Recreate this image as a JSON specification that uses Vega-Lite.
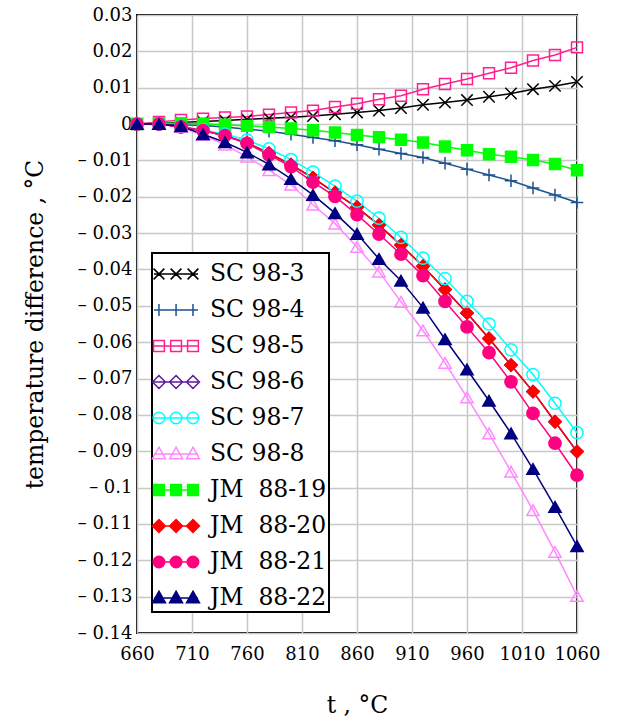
{
 "$schema": "https://vega.github.io/schema/vega-lite/v6.json",
 "width": 440,
 "height": 618,
 "autosize": {"type": "none"},
 "padding": {"left": 137, "top": 15, "right": 41, "bottom": 87},
 "background": "white",
 "config": {
  "view": {"stroke": "black", "strokeWidth": 2},
  "font": "DejaVu Serif",
  "axis": {"labelFont": "DejaVu Serif", "titleFont": "DejaVu Serif", "labelColor": "black", "titleColor": "black", "labelFontSize": 18, "titleFontSize": 23.5, "titleFontWeight": "normal", "gridColor": "#c8c8c8", "gridWidth": 1.5, "gridOpacity": 1, "domain": false, "ticks": false, "tickSize": 0, "labelFlush": false, "labelOverlap": false},
  "legend": {"orient": "none", "legendX": 15, "legendY": 238, "strokeColor": "black", "strokeWidth": 2, "fillColor": "white", "padding": 2, "labelFont": "DejaVu Serif", "labelFontSize": 23.5, "labelColor": "black", "symbolSize": 1296, "symbolStrokeWidth": 1.5, "symbolOpacity": 1, "rowPadding": 5, "labelOffset": 18, "labelLimit": 300}
 },
 "data": {"values": [
  {"s":"SC 98-3","t":660,"d":0},{"s":"SC 98-3","t":680,"d":0.0002},{"s":"SC 98-3","t":700,"d":0.0004},{"s":"SC 98-3","t":720,"d":0.0007},{"s":"SC 98-3","t":740,"d":0.001},{"s":"SC 98-3","t":760,"d":0.0013},{"s":"SC 98-3","t":780,"d":0.0016},{"s":"SC 98-3","t":800,"d":0.0019},{"s":"SC 98-3","t":820,"d":0.0022},{"s":"SC 98-3","t":840,"d":0.0027},{"s":"SC 98-3","t":860,"d":0.0032},{"s":"SC 98-3","t":880,"d":0.0037},{"s":"SC 98-3","t":900,"d":0.0044},{"s":"SC 98-3","t":920,"d":0.0053},{"s":"SC 98-3","t":940,"d":0.0059},{"s":"SC 98-3","t":960,"d":0.0066},{"s":"SC 98-3","t":980,"d":0.0075},{"s":"SC 98-3","t":1000,"d":0.0084},{"s":"SC 98-3","t":1020,"d":0.0096},{"s":"SC 98-3","t":1040,"d":0.0105},{"s":"SC 98-3","t":1060,"d":0.0116},
  {"s":"SC 98-4","t":660,"d":0},{"s":"SC 98-4","t":680,"d":-0.0001},{"s":"SC 98-4","t":700,"d":-0.0002},{"s":"SC 98-4","t":720,"d":-0.0004},{"s":"SC 98-4","t":740,"d":-0.0008},{"s":"SC 98-4","t":760,"d":-0.0014},{"s":"SC 98-4","t":780,"d":-0.002},{"s":"SC 98-4","t":800,"d":-0.0028},{"s":"SC 98-4","t":820,"d":-0.0037},{"s":"SC 98-4","t":840,"d":-0.0046},{"s":"SC 98-4","t":860,"d":-0.0057},{"s":"SC 98-4","t":880,"d":-0.0069},{"s":"SC 98-4","t":900,"d":-0.0081},{"s":"SC 98-4","t":920,"d":-0.0092},{"s":"SC 98-4","t":940,"d":-0.0108},{"s":"SC 98-4","t":960,"d":-0.0124},{"s":"SC 98-4","t":980,"d":-0.014},{"s":"SC 98-4","t":1000,"d":-0.0156},{"s":"SC 98-4","t":1020,"d":-0.0176},{"s":"SC 98-4","t":1040,"d":-0.0195},{"s":"SC 98-4","t":1060,"d":-0.0216},
  {"s":"SC 98-5","t":660,"d":0},{"s":"SC 98-5","t":680,"d":0.0006},{"s":"SC 98-5","t":700,"d":0.0011},{"s":"SC 98-5","t":720,"d":0.0015},{"s":"SC 98-5","t":740,"d":0.0018},{"s":"SC 98-5","t":760,"d":0.0021},{"s":"SC 98-5","t":780,"d":0.0026},{"s":"SC 98-5","t":800,"d":0.0032},{"s":"SC 98-5","t":820,"d":0.0037},{"s":"SC 98-5","t":840,"d":0.0047},{"s":"SC 98-5","t":860,"d":0.0056},{"s":"SC 98-5","t":880,"d":0.0068},{"s":"SC 98-5","t":900,"d":0.0078},{"s":"SC 98-5","t":920,"d":0.0096},{"s":"SC 98-5","t":940,"d":0.011},{"s":"SC 98-5","t":960,"d":0.0124},{"s":"SC 98-5","t":980,"d":0.014},{"s":"SC 98-5","t":1000,"d":0.0155},{"s":"SC 98-5","t":1020,"d":0.0175},{"s":"SC 98-5","t":1040,"d":0.019},{"s":"SC 98-5","t":1060,"d":0.0211},
  {"s":"SC 98-6","t":660,"d":0},{"s":"SC 98-6","t":680,"d":0},{"s":"SC 98-6","t":700,"d":-0.0008},{"s":"SC 98-6","t":720,"d":-0.0018},{"s":"SC 98-6","t":740,"d":-0.0032},{"s":"SC 98-6","t":760,"d":-0.0052},{"s":"SC 98-6","t":780,"d":-0.008},{"s":"SC 98-6","t":800,"d":-0.0112},{"s":"SC 98-6","t":820,"d":-0.0148},{"s":"SC 98-6","t":840,"d":-0.0189},{"s":"SC 98-6","t":860,"d":-0.0229},{"s":"SC 98-6","t":880,"d":-0.0278},{"s":"SC 98-6","t":900,"d":-0.0333},{"s":"SC 98-6","t":920,"d":-0.0391},{"s":"SC 98-6","t":940,"d":-0.0455},{"s":"SC 98-6","t":960,"d":-0.052},{"s":"SC 98-6","t":980,"d":-0.059},{"s":"SC 98-6","t":1000,"d":-0.0663},{"s":"SC 98-6","t":1020,"d":-0.0736},{"s":"SC 98-6","t":1040,"d":-0.0819},{"s":"SC 98-6","t":1060,"d":-0.0901},
  {"s":"SC 98-7","t":660,"d":0},{"s":"SC 98-7","t":680,"d":0},{"s":"SC 98-7","t":700,"d":-0.0008},{"s":"SC 98-7","t":720,"d":-0.0016},{"s":"SC 98-7","t":740,"d":-0.0028},{"s":"SC 98-7","t":760,"d":-0.0044},{"s":"SC 98-7","t":780,"d":-0.0068},{"s":"SC 98-7","t":800,"d":-0.0098},{"s":"SC 98-7","t":820,"d":-0.0132},{"s":"SC 98-7","t":840,"d":-0.0171},{"s":"SC 98-7","t":860,"d":-0.0212},{"s":"SC 98-7","t":880,"d":-0.0259},{"s":"SC 98-7","t":900,"d":-0.0312},{"s":"SC 98-7","t":920,"d":-0.0369},{"s":"SC 98-7","t":940,"d":-0.0425},{"s":"SC 98-7","t":960,"d":-0.0488},{"s":"SC 98-7","t":980,"d":-0.055},{"s":"SC 98-7","t":1000,"d":-0.0621},{"s":"SC 98-7","t":1020,"d":-0.0689},{"s":"SC 98-7","t":1040,"d":-0.0768},{"s":"SC 98-7","t":1060,"d":-0.0849},
  {"s":"SC 98-8","t":660,"d":0},{"s":"SC 98-8","t":680,"d":0},{"s":"SC 98-8","t":700,"d":-0.0008},{"s":"SC 98-8","t":720,"d":-0.003},{"s":"SC 98-8","t":740,"d":-0.0057},{"s":"SC 98-8","t":760,"d":-0.009},{"s":"SC 98-8","t":780,"d":-0.0127},{"s":"SC 98-8","t":800,"d":-0.0167},{"s":"SC 98-8","t":820,"d":-0.0222},{"s":"SC 98-8","t":840,"d":-0.0274},{"s":"SC 98-8","t":860,"d":-0.0338},{"s":"SC 98-8","t":880,"d":-0.0406},{"s":"SC 98-8","t":900,"d":-0.0489},{"s":"SC 98-8","t":920,"d":-0.0568},{"s":"SC 98-8","t":940,"d":-0.0657},{"s":"SC 98-8","t":960,"d":-0.0752},{"s":"SC 98-8","t":980,"d":-0.0851},{"s":"SC 98-8","t":1000,"d":-0.0956},{"s":"SC 98-8","t":1020,"d":-0.1062},{"s":"SC 98-8","t":1040,"d":-0.1177},{"s":"SC 98-8","t":1060,"d":-0.1298},
  {"s":"JM 88-19","t":660,"d":0},{"s":"JM 88-19","t":680,"d":0.0002},{"s":"JM 88-19","t":700,"d":0.0002},{"s":"JM 88-19","t":720,"d":0.0001},{"s":"JM 88-19","t":740,"d":-0.0002},{"s":"JM 88-19","t":760,"d":-0.0005},{"s":"JM 88-19","t":780,"d":-0.0008},{"s":"JM 88-19","t":800,"d":-0.0012},{"s":"JM 88-19","t":820,"d":-0.0017},{"s":"JM 88-19","t":840,"d":-0.0023},{"s":"JM 88-19","t":860,"d":-0.003},{"s":"JM 88-19","t":880,"d":-0.0036},{"s":"JM 88-19","t":900,"d":-0.0043},{"s":"JM 88-19","t":920,"d":-0.0051},{"s":"JM 88-19","t":940,"d":-0.0062},{"s":"JM 88-19","t":960,"d":-0.0072},{"s":"JM 88-19","t":980,"d":-0.0083},{"s":"JM 88-19","t":1000,"d":-0.009},{"s":"JM 88-19","t":1020,"d":-0.0099},{"s":"JM 88-19","t":1040,"d":-0.011},{"s":"JM 88-19","t":1060,"d":-0.0127},
  {"s":"JM 88-20","t":660,"d":0},{"s":"JM 88-20","t":680,"d":0},{"s":"JM 88-20","t":700,"d":-0.0008},{"s":"JM 88-20","t":720,"d":-0.0018},{"s":"JM 88-20","t":740,"d":-0.0032},{"s":"JM 88-20","t":760,"d":-0.0052},{"s":"JM 88-20","t":780,"d":-0.008},{"s":"JM 88-20","t":800,"d":-0.0112},{"s":"JM 88-20","t":820,"d":-0.0148},{"s":"JM 88-20","t":840,"d":-0.0189},{"s":"JM 88-20","t":860,"d":-0.0229},{"s":"JM 88-20","t":880,"d":-0.0278},{"s":"JM 88-20","t":900,"d":-0.0333},{"s":"JM 88-20","t":920,"d":-0.0391},{"s":"JM 88-20","t":940,"d":-0.0455},{"s":"JM 88-20","t":960,"d":-0.052},{"s":"JM 88-20","t":980,"d":-0.059},{"s":"JM 88-20","t":1000,"d":-0.0663},{"s":"JM 88-20","t":1020,"d":-0.0736},{"s":"JM 88-20","t":1040,"d":-0.0819},{"s":"JM 88-20","t":1060,"d":-0.0901},
  {"s":"JM 88-21","t":660,"d":0},{"s":"JM 88-21","t":680,"d":0},{"s":"JM 88-21","t":700,"d":-0.0008},{"s":"JM 88-21","t":720,"d":-0.0018},{"s":"JM 88-21","t":740,"d":-0.0032},{"s":"JM 88-21","t":760,"d":-0.0053},{"s":"JM 88-21","t":780,"d":-0.0085},{"s":"JM 88-21","t":800,"d":-0.0117},{"s":"JM 88-21","t":820,"d":-0.016},{"s":"JM 88-21","t":840,"d":-0.0199},{"s":"JM 88-21","t":860,"d":-0.0249},{"s":"JM 88-21","t":880,"d":-0.0303},{"s":"JM 88-21","t":900,"d":-0.0358},{"s":"JM 88-21","t":920,"d":-0.0417},{"s":"JM 88-21","t":940,"d":-0.0488},{"s":"JM 88-21","t":960,"d":-0.0558},{"s":"JM 88-21","t":980,"d":-0.0629},{"s":"JM 88-21","t":1000,"d":-0.0709},{"s":"JM 88-21","t":1020,"d":-0.0796},{"s":"JM 88-21","t":1040,"d":-0.0878},{"s":"JM 88-21","t":1060,"d":-0.0966},
  {"s":"JM 88-22","t":660,"d":0},{"s":"JM 88-22","t":680,"d":0},{"s":"JM 88-22","t":700,"d":-0.0006},{"s":"JM 88-22","t":720,"d":-0.0028},{"s":"JM 88-22","t":740,"d":-0.005},{"s":"JM 88-22","t":760,"d":-0.0078},{"s":"JM 88-22","t":780,"d":-0.0111},{"s":"JM 88-22","t":800,"d":-0.0151},{"s":"JM 88-22","t":820,"d":-0.0195},{"s":"JM 88-22","t":840,"d":-0.0245},{"s":"JM 88-22","t":860,"d":-0.0302},{"s":"JM 88-22","t":880,"d":-0.0371},{"s":"JM 88-22","t":900,"d":-0.0431},{"s":"JM 88-22","t":920,"d":-0.0505},{"s":"JM 88-22","t":940,"d":-0.0592},{"s":"JM 88-22","t":960,"d":-0.0675},{"s":"JM 88-22","t":980,"d":-0.0761},{"s":"JM 88-22","t":1000,"d":-0.0851},{"s":"JM 88-22","t":1020,"d":-0.0949},{"s":"JM 88-22","t":1040,"d":-0.1053},{"s":"JM 88-22","t":1060,"d":-0.1161}
 ]},
 "encoding": {
  "x": {"field": "t", "type": "quantitative", "scale": {"domain": [660, 1060], "nice": false, "zero": false},
        "axis": {"values": [660, 710, 760, 810, 860, 910, 960, 1010, 1060], "format": "d", "title": "t , °C", "labelPadding": 12, "labelDx": 5, "titleY": 72, "titleBaseline": "middle"}},
  "y": {"field": "d", "type": "quantitative", "scale": {"domain": [-0.14, 0.03], "nice": false, "zero": false},
        "axis": {"values": [-0.14, -0.13, -0.12, -0.11, -0.1, -0.09, -0.08, -0.07, -0.06, -0.05, -0.04, -0.03, -0.02, -0.01, 0, 0.01, 0.02, 0.03],
                 "labelExpr": "datum.value < -1e-9 ? '– ' + format(-datum.value, '.2~f') : format(abs(datum.value), '.2~f')",
                 "title": "temperature difference , °C", "labelPadding": 5, "titleX": -95, "titleBaseline": "alphabetic"}},
  "color": {"field": "s", "type": "nominal",
            "scale": {"domain": ["SC 98-3", "SC 98-4", "SC 98-5", "SC 98-6", "SC 98-7", "SC 98-8", "JM 88-19", "JM 88-20", "JM 88-21", "JM 88-22"],
                      "range": ["#000000", "#1d5290", "#ff2090", "#5b1a9a", "#00ffff", "#ff88ff", "#00ff00", "#ff0000", "#ff0080", "#000080"]},
            "legend": {"title": null, "labelExpr": "replace(datum.label, 'JM ', 'JM\u00a0 ')"}}
 },
 "layer": [
  {"mark": {"type": "line", "strokeWidth": 1.5}},
  {"encoding": {
    "fill": {"field": "s", "type": "nominal",
             "scale": {"domain": ["SC 98-3", "SC 98-4", "SC 98-5", "SC 98-6", "SC 98-7", "SC 98-8", "JM 88-19", "JM 88-20", "JM 88-21", "JM 88-22"],
                       "range": ["transparent", "transparent", "transparent", "transparent", "transparent", "transparent", "#00ff00", "#ff0000", "#ff0080", "#000080"]},
             "legend": {"title": null, "labelExpr": "replace(datum.label, 'JM ', 'JM\u00a0 ')"}}
   },
   "layer": [
    {"transform": [{"filter": {"field": "s", "oneOf": ["SC 98-3"]}}],
     "mark": {"type": "point", "filled": false, "strokeWidth": 1.5, "size": 130, "opacity": 1, "shape": "M-1,-1L1,1M-1,1L1,-1"}},
    {"transform": [{"filter": {"field": "s", "oneOf": ["SC 98-4"]}}],
     "mark": {"type": "point", "filled": false, "strokeWidth": 1.5, "size": 130, "opacity": 1, "shape": "M-1.1,0H1.1M0,-1.1V1.1"}},
    {"transform": [{"filter": {"field": "s", "oneOf": ["SC 98-5", "JM 88-19"]}}],
     "mark": {"type": "point", "filled": false, "strokeWidth": 1.5, "size": 120, "opacity": 1, "shape": "square"}},
    {"transform": [{"filter": {"field": "s", "oneOf": ["SC 98-6", "JM 88-20"]}}],
     "mark": {"type": "point", "filled": false, "strokeWidth": 1.5, "size": 150, "opacity": 1, "shape": "diamond"}},
    {"transform": [{"filter": {"field": "s", "oneOf": ["SC 98-7", "JM 88-21"]}}],
     "mark": {"type": "point", "filled": false, "strokeWidth": 1.5, "size": 150, "opacity": 1, "shape": "circle"}},
    {"transform": [{"filter": {"field": "s", "oneOf": ["SC 98-8", "JM 88-22"]}}],
     "mark": {"type": "point", "filled": false, "strokeWidth": 1.5, "size": 150, "opacity": 1, "shape": "triangle-up"}},
    {"transform": [{"filter": "datum.t < 0"}],
     "mark": {"type": "point", "filled": false, "strokeWidth": 1.5, "opacity": 1},
     "encoding": {
      "shape": {"field": "s", "type": "nominal",
                "scale": {"domain": ["SC 98-3", "SC 98-4", "SC 98-5", "SC 98-6", "SC 98-7", "SC 98-8", "JM 88-19", "JM 88-20", "JM 88-21", "JM 88-22"],
                          "range": [
                           "M-1.06,0H1.39M-1.08,-.3L-.48,.3M-1.08,.3L-.48,-.3M-.13,-.3L.47,.3M-.13,.3L.47,-.3M.81,-.3L1.41,.3M.81,.3L1.41,-.3",
                           "M-1.06,0H1.39M-.78,-.34V.34M.17,-.34V.34M1.11,-.34V.34",
                           "M-1.06,0H1.39M-1.08,-.3H-.48V.3H-1.08ZM-.13,-.3H.47V.3H-.13ZM.81,-.3H1.41V.3H.81Z",
                           "M-1.06,0H1.39M-.78,-.36L-.42,0L-.78,.36L-1.14,0ZM.17,-.36L.53,0L.17,.36L-.19,0ZM1.11,-.36L1.47,0L1.11,.36L.75,0Z",
                           "M-1.06,0H1.39M-1.1,0A.32,.32 0 1,0 -.46,0A.32,.32 0 1,0 -1.1,0ZM-.15,0A.32,.32 0 1,0 .49,0A.32,.32 0 1,0 -.15,0ZM.79,0A.32,.32 0 1,0 1.43,0A.32,.32 0 1,0 .79,0Z",
                           "M-1.06,0H1.39M-.78,-.38L-.42,.26L-1.14,.26ZM.17,-.38L.53,.26L-.19,.26ZM1.11,-.38L1.47,.26L.75,.26Z",
                           "M-1.06,0H1.39M-1.08,-.3H-.48V.3H-1.08ZM-.13,-.3H.47V.3H-.13ZM.81,-.3H1.41V.3H.81Z",
                           "M-1.06,0H1.39M-.78,-.36L-.42,0L-.78,.36L-1.14,0ZM.17,-.36L.53,0L.17,.36L-.19,0ZM1.11,-.36L1.47,0L1.11,.36L.75,0Z",
                           "M-1.06,0H1.39M-1.1,0A.32,.32 0 1,0 -.46,0A.32,.32 0 1,0 -1.1,0ZM-.15,0A.32,.32 0 1,0 .49,0A.32,.32 0 1,0 -.15,0ZM.79,0A.32,.32 0 1,0 1.43,0A.32,.32 0 1,0 .79,0Z",
                           "M-1.06,0H1.39M-.78,-.38L-.42,.26L-1.14,.26ZM.17,-.38L.53,.26L-.19,.26ZM1.11,-.38L1.47,.26L.75,.26Z"]},
                "legend": {"title": null, "labelExpr": "replace(datum.label, 'JM ', 'JM\u00a0 ')"}}
     }}
   ]}
 ]
}
